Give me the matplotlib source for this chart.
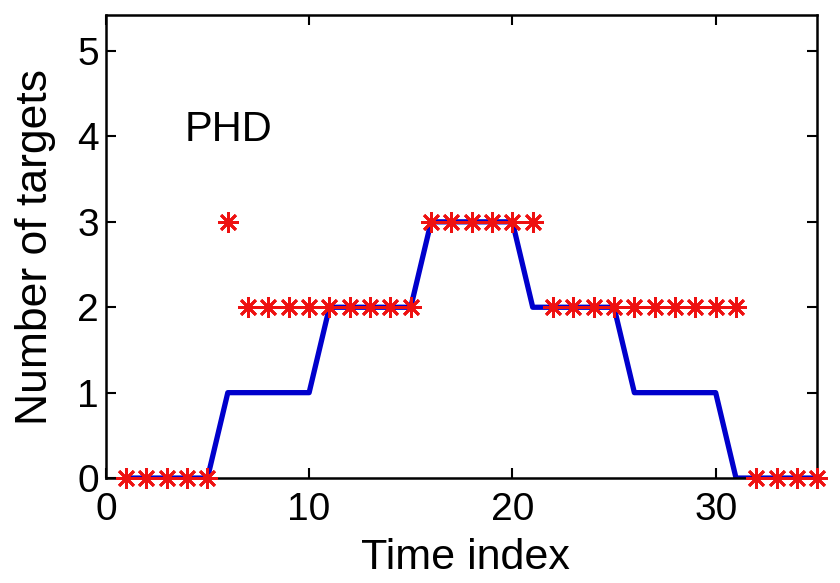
import matplotlib
matplotlib.use('Agg')
import matplotlib.pyplot as plt

matplotlib.rcParams['font.family'] = ['Liberation Sans', 'DejaVu Sans']

# true target count per time step
time_true = list(range(1, 36))
n_true = [0]*5 + [1]*5 + [2]*5 + [3]*5 + [2]*5 + [1]*5 + [0]*5

# PHD estimated count
time_est = list(range(1, 36))
n_est = [0]*5 + [3] + [2]*9 + [3]*6 + [2]*10 + [0]*4

fig = plt.figure(figsize=(8.4, 5.83), dpi=100)
ax = fig.add_axes([0.126, 0.18, 0.847, 0.794])

ax.plot(time_true, n_true, color='#0000cc', linewidth=3.8, zorder=2)
ax.plot(time_est, n_est, linestyle='none', marker=(8, 2, 0), markersize=15,
        markeredgewidth=2.0, color='#ee1111', markeredgecolor='#ee1111',
        zorder=3, clip_on=False)

ax.text(3.9, 4.07, 'PHD', fontsize=30, va='center', ha='left')

ax.set_xlim(0, 35)
ax.set_ylim(0, 5.42)
ax.set_xticks([0, 10, 20, 30])
ax.set_yticks([0, 1, 2, 3, 4, 5])
ax.tick_params(direction='in', top=True, right=True, labelsize=28, length=7, width=1.5)
ax.tick_params(axis='x', pad=10)
ax.tick_params(axis='y', pad=5)
for s in ax.spines.values():
    s.set_linewidth(1.8)
ax.set_xlabel('Time index', fontsize=31)
ax.set_ylabel('Number of targets', fontsize=32)
ax.xaxis.set_label_coords(0.505, -0.13)
ax.yaxis.set_label_coords(-0.07, 0.5)

fig.savefig('out.png', dpi=100)
